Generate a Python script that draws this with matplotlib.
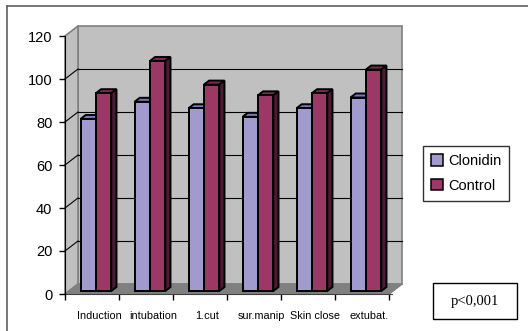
import matplotlib
matplotlib.use('Agg')
import matplotlib.pyplot as plt
import matplotlib.patches as patches
from matplotlib.lines import Line2D
import numpy as np

# Heart-rate style values per surgical stage
categories = ['Induction', 'intubation', '1.cut', 'sur.manip', 'Skin close', 'extubat.']
clonidin = [80, 88, 85, 81, 85, 90]
control = [92, 107, 96, 91, 92, 103]
series_names = ['Clonidin', 'Control']
y_ticks = [0, 20, 40, 60, 80, 100, 120]

plt.rcParams['font.family'] = ['Liberation Sans', 'DejaVu Sans']

W_PX, H_PX = 528, 331
fig = plt.figure(figsize=(W_PX / 100, H_PX / 100), dpi=100)

# front plane of the 3D box: x 65..389 px, y 294..36 px
ax = fig.add_axes([65 / W_PX, (H_PX - 294) / H_PX, 324 / W_PX, 258 / H_PX])
n = len(categories)
ymax = 120
ax.set_xlim(0, n)
ax.set_ylim(0, ymax)
ax.patch.set_visible(False)

# oblique depth offset (full depth) in data units
px_per_cat = 324 / n
px_per_val = 258 / ymax
DX = 13 / px_per_cat
DY = 10 / px_per_val


def proj(x, y, d):
    return (x + d * DX, y + d * DY)


wall_fc = '#C0C0C0'
wall_ec = '#808080'

# back wall, left wall, floor
back = patches.Polygon([proj(0, 0, 1), proj(n, 0, 1), proj(n, ymax, 1), proj(0, ymax, 1)],
                       closed=True, fc=wall_fc, ec=wall_ec, lw=1.2, clip_on=False, zorder=1)
left = patches.Polygon([proj(0, 0, 0), proj(0, 0, 1), proj(0, ymax, 1), proj(0, ymax, 0)],
                       closed=True, fc=wall_fc, ec=wall_ec, lw=1.2, clip_on=False, zorder=1)
floor = patches.Polygon([proj(0, 0, 0), proj(n, 0, 0), proj(n, 0, 1), proj(0, 0, 1)],
                        closed=True, fc='#808080', ec='#808080', lw=1, clip_on=False, zorder=1)
for p in (back, left, floor):
    ax.add_patch(p)

# gridlines on the walls
for v in y_ticks[1:-1]:
    x0, y0 = proj(0, v, 1)
    x1, y1 = proj(n, v, 1)
    ax.plot([x0, x1], [y0, y1], color='black', lw=0.8, zorder=2, clip_on=False)
    xa, ya = proj(0, v, 0)
    ax.plot([xa, x0], [ya, y0], color='black', lw=0.8, zorder=2, clip_on=False)

# bars as oblique prisms
d0, d1 = 0.3, 0.7
bw = 0.285
styles = [
    dict(front='#A09BCC', top='#7A76BE', side='#4E4B7E'),
    dict(front='#9B3865', top='#7C2A50', side='#4C1A33'),
]
z = 3
for i in range(n):
    c = i + 0.5
    for s, (vals, st) in enumerate(zip([clonidin, control], styles)):
        v = vals[i]
        x_left = c - bw if s == 0 else c
        x_right = x_left + bw
        top = patches.Polygon([proj(x_left, v, d0), proj(x_right, v, d0),
                               proj(x_right, v, d1), proj(x_left, v, d1)],
                              closed=True, fc=st['top'], ec='black', lw=1.4, zorder=z)
        side = patches.Polygon([proj(x_right, 0, d0), proj(x_right, 0, d1),
                                proj(x_right, v, d1), proj(x_right, v, d0)],
                               closed=True, fc=st['side'], ec='black', lw=1.4, zorder=z)
        ax.add_patch(top)
        ax.add_patch(side)
        fx, fy = proj(x_left, 0, d0)
        ax.bar(fx, v, width=bw, bottom=fy, align='edge', color=st['front'],
               edgecolor='black', linewidth=1.4, zorder=z + 0.5)
        z += 1

# right edge of the floor
xf0, yf0 = proj(n, 0, 0)
xf1, yf1 = proj(n, 0, 1)
ax.plot([xf0, xf1], [yf0, yf1], color='#808080', lw=1, clip_on=False, zorder=2)

# front axes
for side_name in ('top', 'right'):
    ax.spines[side_name].set_visible(False)
ax.spines['left'].set_color('black')
ax.spines['bottom'].set_color('#404040')
ax.spines['left'].set_zorder(50)
ax.spines['bottom'].set_bounds(0, n + 0.05)
ax.set_yticks(y_ticks)
ax.set_yticklabels([str(t) for t in y_ticks])
ax.tick_params(axis='y', direction='out', length=4, width=1, pad=5, labelsize=10.5)
ax.set_xticks(np.arange(0, n + 1))
ax.set_xticklabels([])
ax.tick_params(axis='x', which='major', direction='out', length=4, width=1)
ax.set_xticks(np.arange(n) + 0.63, minor=True)
ax.set_xticklabels(categories, minor=True)
ax.tick_params(axis='x', which='minor', length=0, pad=12, labelsize=7.8)

# legend
handles = [patches.Patch(facecolor=st['front'], edgecolor='black', linewidth=1.1) for st in styles]
leg = fig.legend(handles, series_names, loc='upper left',
                 bbox_to_anchor=(423 / W_PX, 1 - 146 / H_PX),
                 fontsize=10.5, frameon=True, fancybox=False, edgecolor='black',
                 handlelength=0.8, handleheight=0.8, handletextpad=0.35,
                 labelspacing=0.75, borderpad=0.55, borderaxespad=0)
leg.get_frame().set_linewidth(1.0)

# significance box
fig.add_artist(patches.Rectangle((433 / W_PX, 1 - 319 / H_PX), 84 / W_PX, 36 / H_PX,
                                 transform=fig.transFigure, fc='white', ec='black', lw=1.0))
fig.text(475 / W_PX, 1 - 301 / H_PX, 'p<0,001', ha='center', va='center',
         family=['Liberation Serif', 'DejaVu Serif'], fontsize=10.5)

# outer chart border
fig.add_artist(Line2D([6.5 / W_PX, 6.5 / W_PX], [0, 1 - 5.5 / H_PX],
                      transform=fig.transFigure, color='#606060', lw=1.2))
fig.add_artist(Line2D([6.5 / W_PX, 1], [1 - 5.5 / H_PX, 1 - 5.5 / H_PX],
                      transform=fig.transFigure, color='#606060', lw=1.2))

fig.savefig('out.png', dpi=100)
